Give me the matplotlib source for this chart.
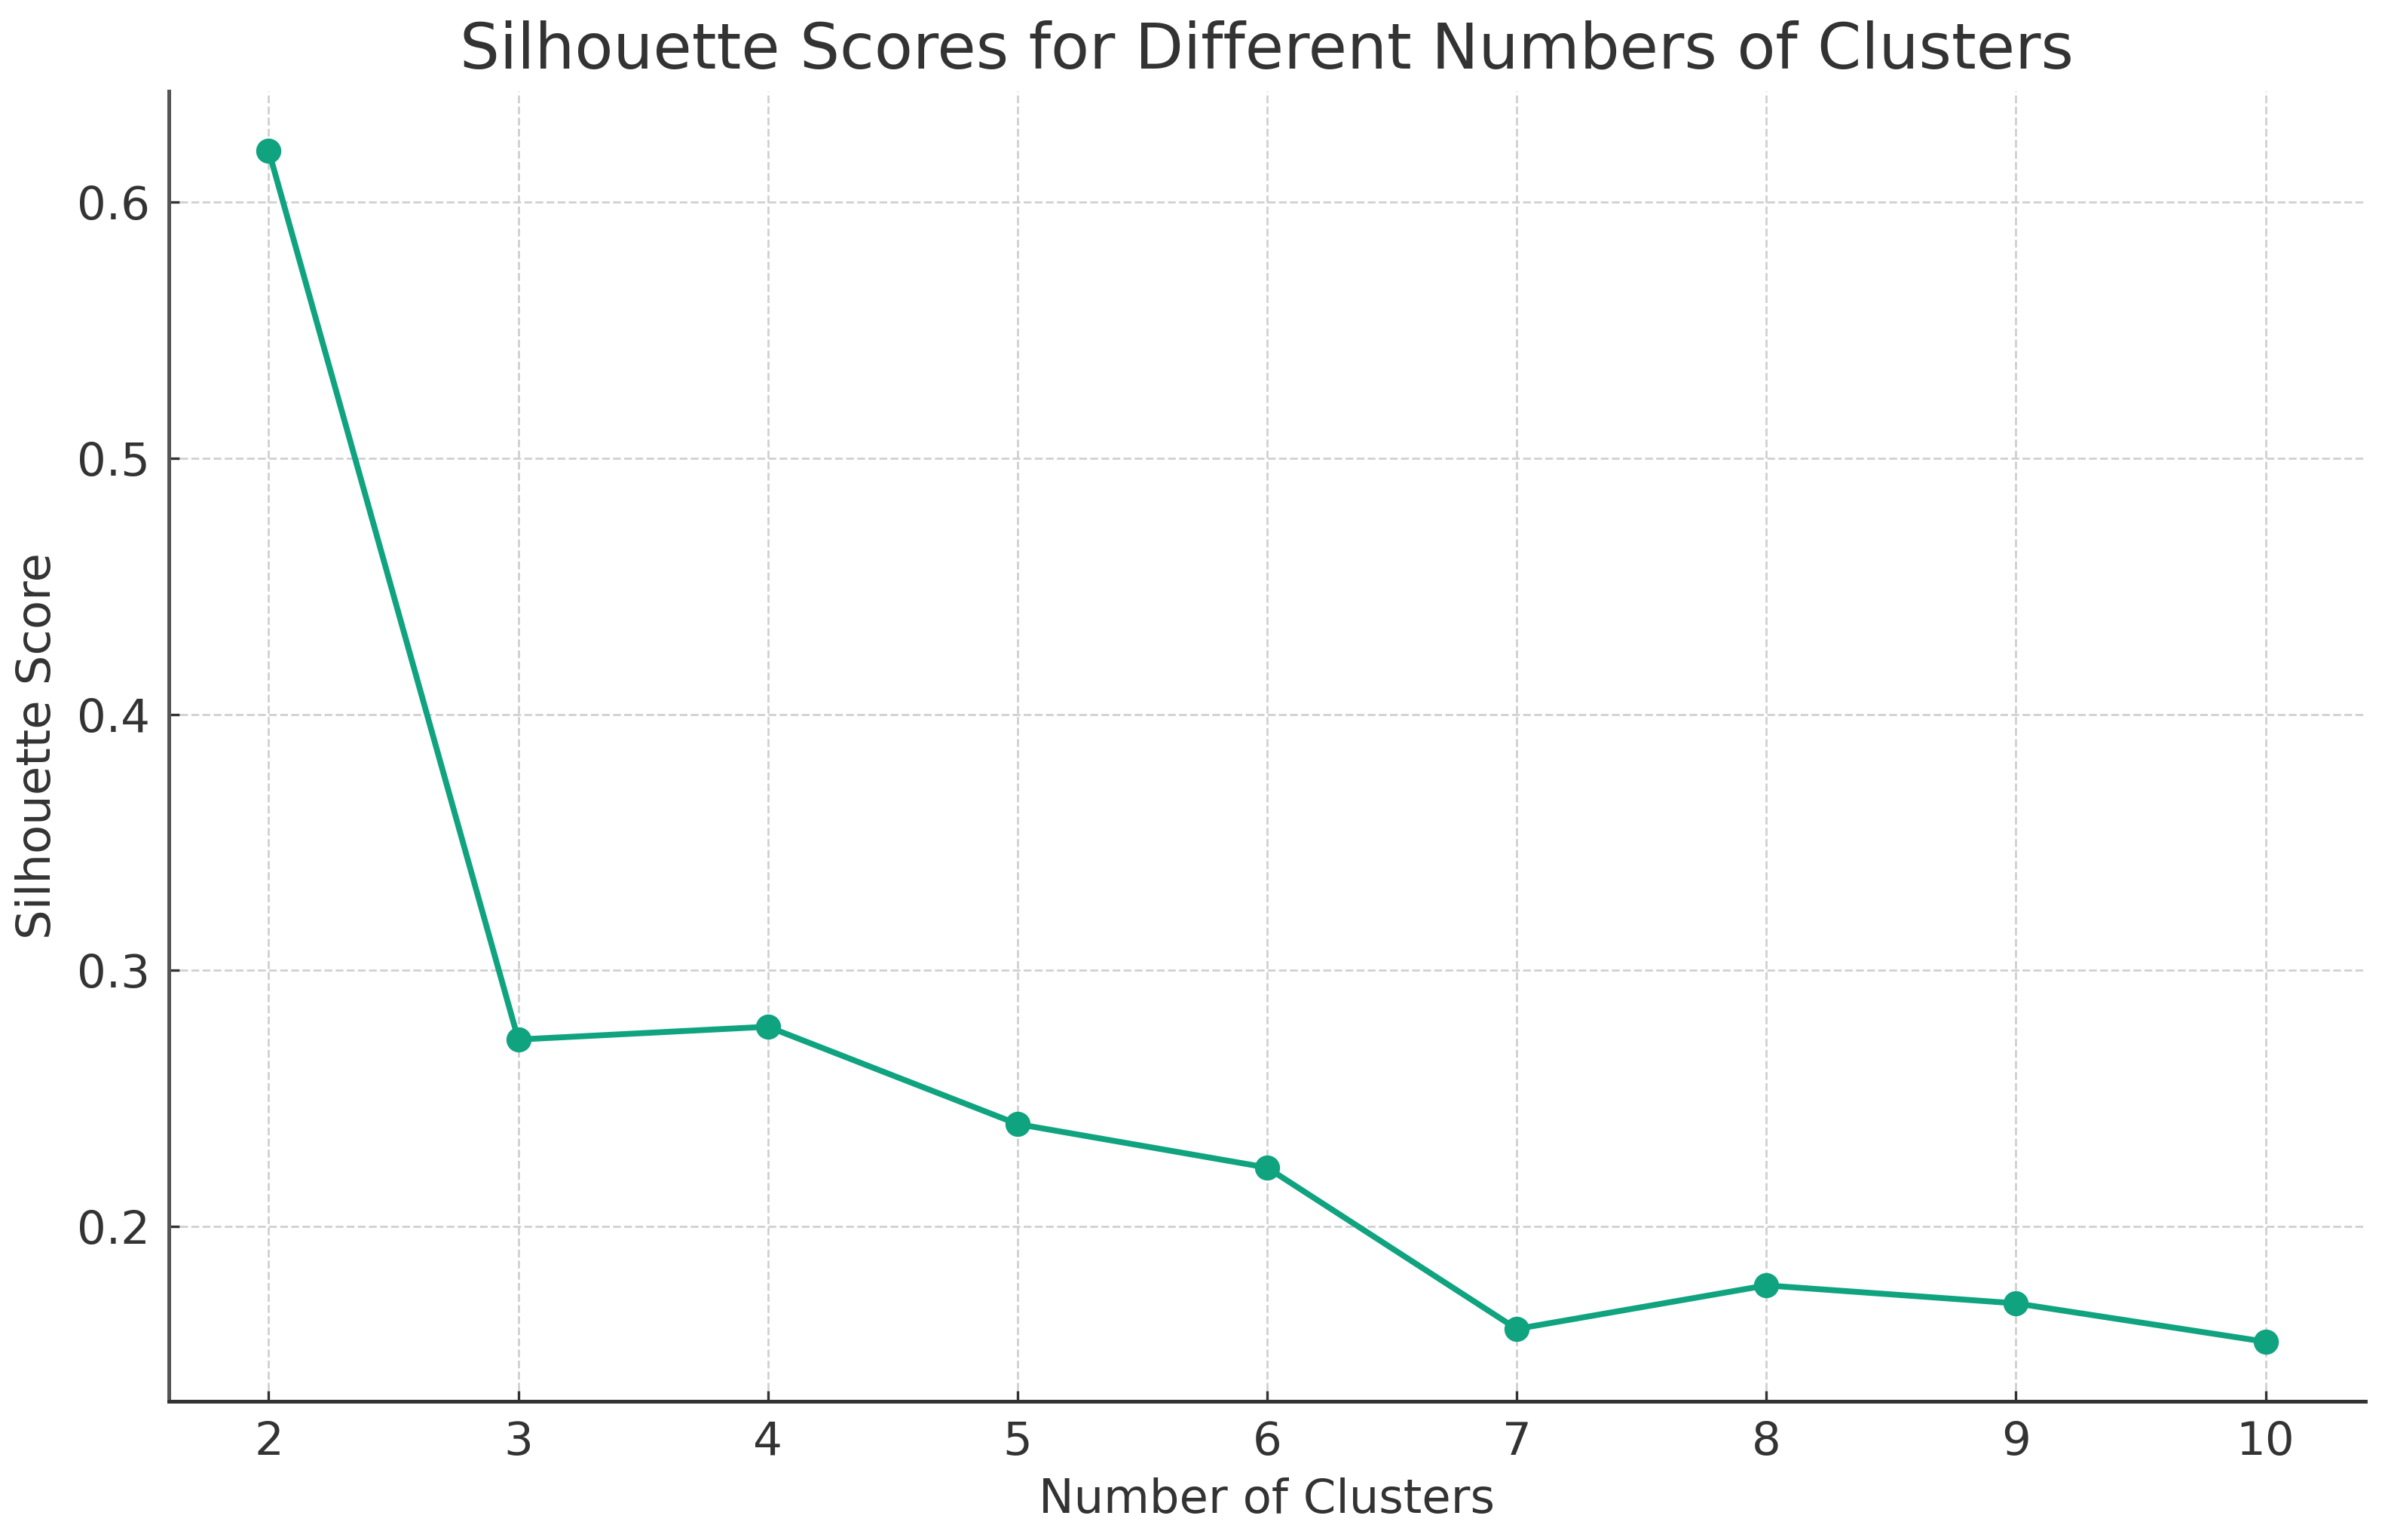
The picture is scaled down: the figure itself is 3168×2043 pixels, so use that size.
import matplotlib
matplotlib.use("Agg")
import matplotlib.pyplot as plt

# data
n_clusters = [2, 3, 4, 5, 6, 7, 8, 9, 10]
silhouette = [0.620, 0.273, 0.278, 0.240, 0.223, 0.160, 0.177, 0.170, 0.155]

GREEN = "#10a37f"
TEXT = "#333333"

plt.rcParams["font.family"] = ["DejaVu Sans"]

fig = plt.figure(figsize=(15.84, 10.215), dpi=200)
ax = fig.add_axes([224 / 3168, 1 - 1859 / 2043, (3138 - 224) / 3168, (1859 - 121) / 2043])

ax.plot(n_clusters, silhouette, color=GREEN, linewidth=2.8, marker="o", markersize=11)

ax.set_title("Silhouette Scores for Different Numbers of Clusters", fontsize=30, color=TEXT, pad=11)
ax.set_xlabel("Number of Clusters", fontsize=22.5, color=TEXT, labelpad=6)
ax.set_ylabel("Silhouette Score", fontsize=22.5, color=TEXT, labelpad=8)

ax.set_xticks(n_clusters)
ax.set_yticks([0.2, 0.3, 0.4, 0.5, 0.6])
ax.tick_params(axis="both", direction="in", length=5, width=1.2, labelsize=22,
               labelcolor=TEXT, color=TEXT, pad=9)

ax.grid(True, linestyle="--", color="#d0d0d0", linewidth=1.0)
ax.set_axisbelow(True)

for side in ["top", "right"]:
    ax.spines[side].set_visible(False)
ax.spines["left"].set_color("#555555")
ax.spines["bottom"].set_color(TEXT)
ax.spines["left"].set_linewidth(1.8)
ax.spines["bottom"].set_linewidth(1.8)

fig.savefig("out.png", dpi=200)
plt.close(fig)
